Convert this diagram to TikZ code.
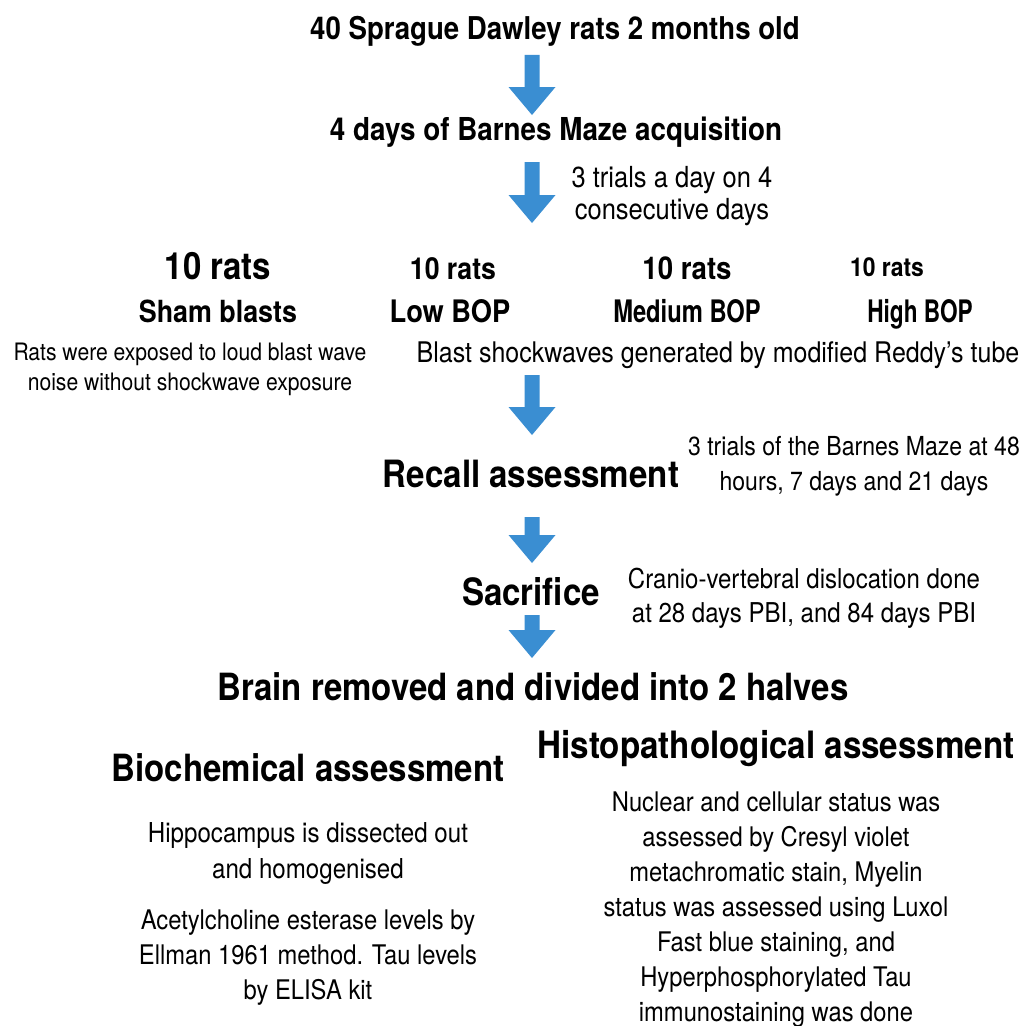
\documentclass[tikz,border=0pt]{standalone}
\usepackage{fontspec}
\setmainfont{TeX Gyre Heros}[FakeStretch=0.88]
\usetikzlibrary{calc}
\definecolor{arrowblue}{RGB}{58,142,210}
\newcommand\blockarrow[2]{%
  \fill[arrowblue] let \p1=#1, \p2=#2 in
   (\x1-7.5pt,\y1) -- (\x1+7.5pt,\y1) -- (\x1+7.5pt,\y2+28pt) -- (\x1+23.5pt,\y2+28pt)
   -- (\x1,\y2) -- (\x1-23.5pt,\y2+28pt) -- (\x1-7.5pt,\y2+28pt) -- cycle;}
\newcommand\fs[2]{\fontsize{#1}{#2}\selectfont}
\begin{document}
\begin{tikzpicture}[x=1pt,y=-1pt,
  lbl/.style={inner sep=0pt, anchor=base, align=center},
  bld/.style={lbl, font=\bfseries}]
\useasboundingbox (0,0) rectangle (1030,1025);
\fill[white] (0,0) rectangle (1030,1025);
\coordinate (col) at (532,0);
% steps (multi-line nodes: base = baseline of last line)
\node[bld, font=\bfseries\fs{31.4}{36}] (start) at (555,40) {40 Sprague Dawley rats 2 months old};
\node[bld, font=\bfseries\fs{31.6}{36}] (acq) at (556,140) {4 days of Barnes Maze acquisition};
\node[lbl, font=\fs{29}{32}] (acqnote) at (672,219) {3 trials a day on 4\\consecutive days};
% groups
\node[bld, font=\bfseries\fs{37.5}{40}] (shamrats) at (218,279) {10 rats};
\node[bld, font=\bfseries\fs{30.5}{34}] (shamlab) at (218,322) {Sham blasts};
\node[bld, font=\bfseries\fs{30.3}{34}] (lowrats) at (453,279) {10 rats};
\node[bld, font=\bfseries\fs{31}{34}] (lowlab) at (450,322) {Low BOP};
\node[bld, font=\bfseries\fs{31.4}{34}] (medrats) at (687,279) {10 rats};
\node[bld, font=\bfseries\fs{31}{34}] (medlab) at (687,322) {\scalebox{0.87}[1]{Medium BOP}};
\node[bld, font=\bfseries\fs{26}{34}] (highrats) at (887,276) {10 rats};
\node[bld, font=\bfseries\fs{31}{34}] (highlab) at (920,322) {\scalebox{0.83}[1]{High BOP}};
\node[lbl, font=\fs{24}{30}] (shamnote) at (190,390) {Rats were exposed to loud blast wave\\noise without shockwave exposure};
\node[lbl, font=\fs{28.4}{34}] (blast) at (718,362) {Blast shockwaves generated by modified Reddy’s tube};
% recall
\node[bld, font=\bfseries\fs{37.6}{40}] (recall) at (531,487) {Recall assessment};
\node[lbl, font=\fs{26.2}{35}] (recallnote) at (854,490) {3 trials of the Barnes Maze at 48\\hours, 7 days and 21 days};
% sacrifice
\node[bld, font=\bfseries\fs{37.6}{40}] (sacrifice) at (531,605) {Sacrifice};
\node[lbl, font=\fs{27.3}{34}] (sacnote) at (804,622) {Cranio-vertebral dislocation done\\at 28 days PBI, and 84 days PBI};
% brain
\node[bld, font=\bfseries\fs{37.5}{40}] (brain) at (533,700) {Brain removed and divided into 2 halves};
\node[bld, font=\bfseries\fs{37.7}{40}] (histo) at (776,758) {Histopathological assessment};
\node[bld, font=\bfseries\fs{37.5}{40}] (bio) at (308,781) {Biochemical assessment};
\node[lbl, font=\fs{27.4}{36}] (hippo) at (308,878) {Hippocampus is dissected out\\and homogenised};
\node[lbl, font=\fs{27}{35}] (ache) at (308,999) {Acetylcholine esterase levels by\\Ellman 1961 method. Tau levels\\by ELISA kit};
\node[lbl, font=\fs{27}{35}] (histonote) at (776,1021) {Nuclear and cellular status was\\assessed by Cresyl violet\\metachromatic stain, Myelin\\status was assessed using Luxol\\Fast blue staining, and\\Hyperphosphorylated Tau\\immunostaining was done};
% arrows
\blockarrow{($(start.base -| col)+(0,15)$)}{($(acq.base -| col)+(0,-25)$)}
\blockarrow{($(acq.base -| col)+(0,22)$)}{($(lowrats.base -| col)+(0,-56)$)}
\blockarrow{($(blast.base -| col)+(0,13)$)}{($(recall.base -| col)+(0,-52)$)}
\blockarrow{($(recall.base -| col)+(0,30)$)}{($(sacrifice.base -| col)+(0,-42)$)}
\blockarrow{($(sacrifice.base -| col)+(0,10)$)}{($(brain.base -| col)+(0,-42)$)}
\end{tikzpicture}
\end{document}
